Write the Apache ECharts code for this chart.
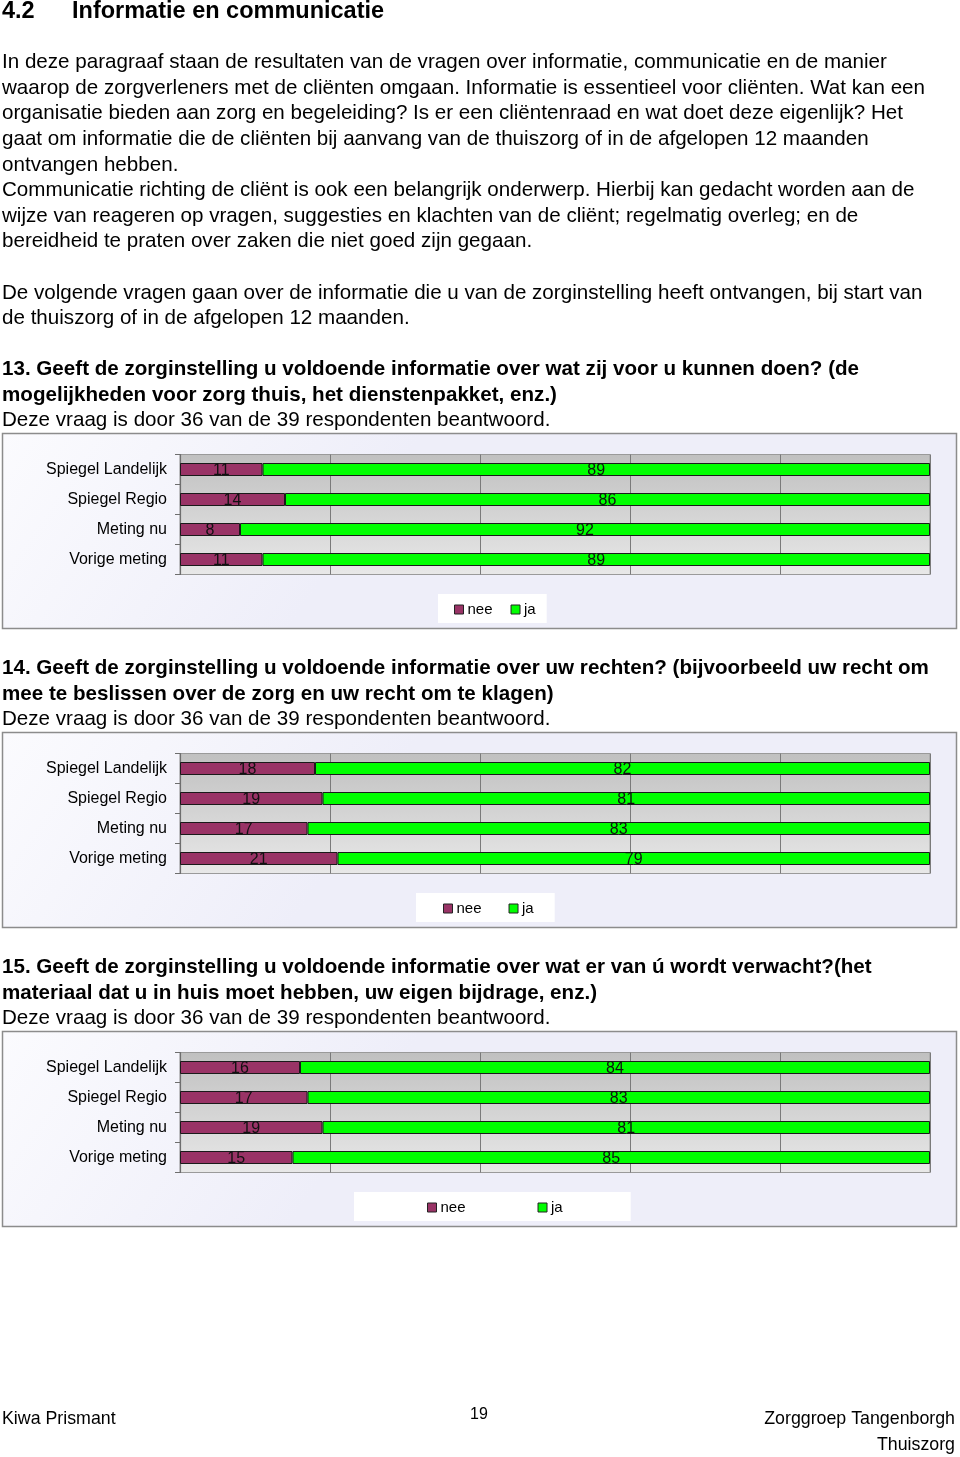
<!DOCTYPE html>
<html>
<head>
<meta charset="utf-8">
<script src="https://cdn.jsdelivr.net/npm/echarts@6/dist/echarts.min.js"></script>
<style>
html,body{margin:0;padding:0;background:#fff;}
#main{width:960px;height:1457px;}
</style>
</head>
<body>
<div id="main"></div>
<script>
// ---- data ----
const categories = ['Spiegel Landelijk', 'Spiegel Regio', 'Meting nu', 'Vorige meting'];
const seriesNames = ['nee', 'ja'];
const q13Nee = [11, 14, 8, 11];
const q13Ja = [89, 86, 92, 89];
const q14Nee = [18, 19, 17, 21];
const q14Ja = [82, 81, 83, 79];
const q15Nee = [16, 17, 19, 15];
const q15Ja = [84, 83, 81, 85];
const xMin = 0, xMax = 100, xInterval = 20;

const headingNum = '4.2';
const headingText = 'Informatie en communicatie';
const introLines = [
  'In deze paragraaf staan de resultaten van de vragen over informatie, communicatie en de manier',
  'waarop de zorgverleners met de cliënten omgaan. Informatie is essentieel voor cliënten. Wat kan een',
  'organisatie bieden aan zorg en begeleiding? Is er een cliëntenraad en wat doet deze eigenlijk? Het',
  'gaat om informatie die de cliënten bij aanvang van de thuiszorg of in de afgelopen 12 maanden',
  'ontvangen hebben.',
  'Communicatie richting de cliënt is ook een belangrijk onderwerp. Hierbij kan gedacht worden aan de',
  'wijze van reageren op vragen, suggesties en klachten van de cliënt; regelmatig overleg; en de',
  'bereidheid te praten over zaken die niet goed zijn gegaan.'
];
const introLines2 = [
  'De volgende vragen gaan over de informatie die u van de zorginstelling heeft ontvangen, bij start van',
  'de thuiszorg of in de afgelopen 12 maanden.'
];
const questions = [
  ['13. Geeft de zorginstelling u voldoende informatie over wat zij voor u kunnen doen? (de',
   'mogelijkheden voor zorg thuis, het dienstenpakket, enz.)'],
  ['14. Geeft de zorginstelling u voldoende informatie over uw rechten? (bijvoorbeeld uw recht om',
   'mee te beslissen over de zorg en uw recht om te klagen)'],
  ['15. Geeft de zorginstelling u voldoende informatie over wat er van ú wordt verwacht?(het',
   'materiaal dat u in huis moet hebben, uw eigen bijdrage, enz.)']
];
const answeredText = 'Deze vraag is door 36 van de 39 respondenten beantwoord.';
const footerLeft = 'Kiwa Prismant';
const footerPage = '19';
const footerRight1 = 'Zorggroep Tangenborgh';
const footerRight2 = 'Thuiszorg';

// ---- layout ----
const FONT = '"Liberation Sans", Arial, Helvetica, sans-serif';
const BODY = 20.6;
const LH = 25.6;
const charts = [
  { nee: q13Nee, ja: q13Ja, boxTop: 433, qTop: 369.5, legend: { left: 438, pad: [8, 11, 6, 16], gap: 18 } },
  { nee: q14Nee, ja: q14Ja, boxTop: 732, qTop: 668.5, legend: { left: 416, pad: [8, 21, 6, 27], gap: 27 } },
  { nee: q15Nee, ja: q15Ja, boxTop: 1031, qTop: 967.5, legend: { left: 354, pad: [8, 68, 6, 73], gap: 72 } }
];

function txt(str, x, y, size, weight, align) {
  return {
    type: 'text', z: 10,
    style: {
      text: str, x: x, y: y, fill: '#000',
      fontSize: size, fontFamily: FONT, fontWeight: weight || 'normal',
      textAlign: align || 'left', textVerticalAlign: 'middle',
      align: align || 'left', verticalAlign: 'middle'
    }
  };
}

const graphics = [];
graphics.push(txt(headingNum, 2, 12, 23.5, 'bold'));
graphics.push(txt(headingText, 72, 12, 23.5, 'bold'));
introLines.forEach((l, i) => graphics.push(txt(l, 2, 62.5 + i * LH, BODY)));
introLines2.forEach((l, i) => graphics.push(txt(l, 2, 293 + i * LH, BODY)));

const grids = [], xAxes = [], yAxes = [], series = [], legends = [];
charts.forEach((c, k) => {
  graphics.push(txt(questions[k][0], 2, c.qTop, BODY, 'bold'));
  graphics.push(txt(questions[k][1], 2, c.qTop + LH, BODY, 'bold'));
  graphics.push(txt(answeredText, 2, c.qTop + 2 * LH, BODY));
  graphics.push({
    type: 'rect', z: -5,
    shape: { x: 2.5, y: c.boxTop + 0.5, width: 954, height: 195 },
    style: {
      fill: { type: 'linear', x: 0, y: 0, x2: 0.3, y2: 1, colorStops: [
        { offset: 0, color: '#fbfbfe' }, { offset: 1, color: '#eeeef9' }] },
      stroke: '#8c8c8c', lineWidth: 1.5
    }
  });
  grids.push({
    left: 180, width: 750, top: c.boxTop + 21.5, height: 120,
    show: true, borderColor: '#9a9a9a', borderWidth: 1,
    backgroundColor: { type: 'linear', x: 0, y: 0, x2: 0, y2: 1, colorStops: [
      { offset: 0, color: '#c0c0c0' }, { offset: 1, color: '#e8e8e8' }] }
  });
  xAxes.push({
    type: 'value', gridIndex: k, min: xMin, max: xMax, interval: xInterval,
    axisLabel: { show: false }, axisLine: { show: false }, axisTick: { show: false },
    splitLine: { show: true, lineStyle: { color: '#7a7a7a', width: 1 } }
  });
  yAxes.push({
    type: 'category', gridIndex: k, data: categories, inverse: true,
    axisLine: { show: true, lineStyle: { color: '#6e6e6e', width: 1.2 } },
    axisTick: { show: true, length: 5, lineStyle: { color: '#6e6e6e' } },
    axisLabel: { color: '#000', fontSize: 16, fontFamily: FONT, margin: 13, padding: [3, 0, 0, 0] }
  });
  const vals = [c.nee, c.ja];
  const colors = ['#993366', '#00ff00'];
  seriesNames.forEach((nm, j) => {
    series.push({
      type: 'bar', name: nm, stack: 'q' + k, xAxisIndex: k, yAxisIndex: k,
      data: vals[j], barWidth: 13,
      itemStyle: { color: colors[j], borderColor: '#1a1a1a', borderWidth: 1 },
      label: { show: true, position: 'inside', color: '#111', fontSize: 16, fontFamily: FONT, offset: [0, 1.5] },
      emphasis: { disabled: true }
    });
  });
  legends.push({
    data: seriesNames, left: c.legend.left, top: c.boxTop + 161,
    orient: 'horizontal', backgroundColor: '#ffffff',
    padding: c.legend.pad, itemGap: c.legend.gap,
    itemWidth: 9, itemHeight: 9, icon: 'rect',
    itemStyle: { borderColor: '#222', borderWidth: 1 },
    textStyle: { color: '#000', fontSize: 15, fontFamily: FONT, padding: [0, 0, 0, -1] },
    selectedMode: false
  });
});

graphics.push(txt(footerLeft, 2, 1419.5, 17.8));
graphics.push(txt(footerPage, 479, 1414.5, 16, 'normal', 'center'));
graphics.push(txt(footerRight1, 955, 1419.5, 17.8, 'normal', 'right'));
graphics.push(txt(footerRight2, 955, 1445.5, 17.8, 'normal', 'right'));

const chart = echarts.init(document.getElementById('main'), null, { renderer: 'canvas' });
chart.setOption({
  animation: false,
  backgroundColor: '#ffffff',
  textStyle: { fontFamily: FONT },
  grid: grids,
  xAxis: xAxes,
  yAxis: yAxes,
  legend: legends,
  series: series,
  graphic: { elements: graphics }
});
</script>
</body>
</html>
